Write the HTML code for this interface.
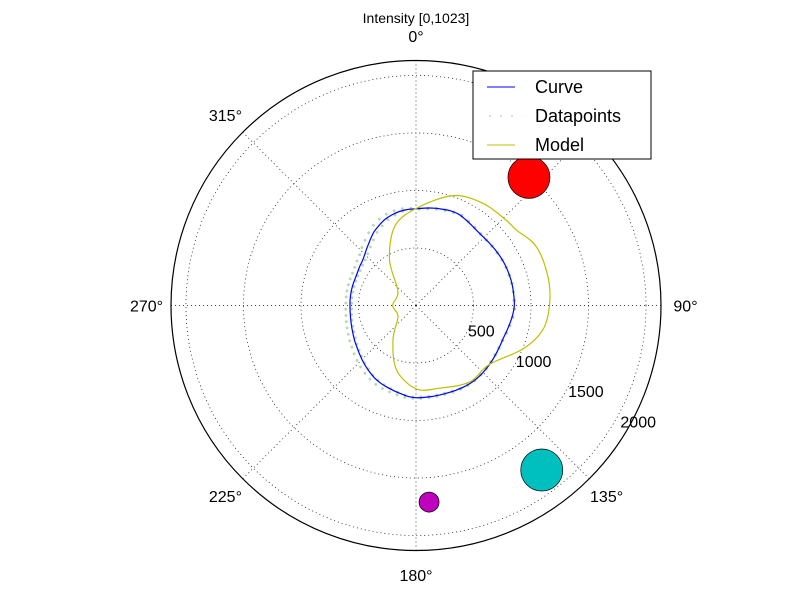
<!DOCTYPE html>
<html><head><meta charset="utf-8"><style>
body{margin:0;background:#fff}
svg{display:block;font-family:"Liberation Sans",sans-serif}
</style></head><body>
<svg id="c" width="812" height="612" viewBox="0 0 812 612" xmlns="http://www.w3.org/2000/svg">
<rect width="812" height="612" fill="#fff"/>
<text x="416" y="23" font-size="14" text-anchor="middle">Intensity [0,1023]</text>
<g id="grid"></g>
<g id="series"></g>
<g id="labels" font-size="16"></g>
<g>
<rect x="473" y="71" width="178" height="88" fill="#fff" stroke="#000" stroke-width="1"/>
<line x1="487" y1="87" x2="515" y2="87" stroke="#0000ff" stroke-width="1"/>
<text x="535" y="93" font-size="18">Curve</text>
<g fill="#8fd18f"><circle cx="490" cy="116" r="0.8"/><circle cx="501" cy="116" r="0.8"/><circle cx="512" cy="116" r="0.8"/></g>
<text x="535" y="122" font-size="18">Datapoints</text>
<line x1="487" y1="145" x2="515" y2="145" stroke="#bfbf00" stroke-width="1"/>
<text x="535" y="151" font-size="18">Model</text>
</g>
</svg>
<script>
const curveAngles=[0,5,10,15,20,25,30,35,40,45,50,55,60,65,70,75,80,85,90,95,100,105,110,115,120,125,130,135,140,145,150,155,160,165,170,175,180,185,190,195,200,205,210,215,220,225,230,235,240,245,250,255,260,265,270,275,280,285,290,295,300,305,310,315,320,325,330,335,340,345,350,355];
const curveVals=[841,850,860,868,876,876,862,848,837,835,838,842,847,851,853,855,855,855,855,846,833,821,811,810,812,816,820,824,826,825,820,814,808,805,803,802,802,793,778,764,752,741,725,705,684,664,645,628,615,602,592,584,578,575,574,575,576,577,578,579,585,596,607,630,660,695,735,765,795,815,830,838];
const dotVals=[845,852,864,870,878,880,866,852,842,838,842,846,850,854,856,858,858,858,858,850,836,824,814,813,815,820,824,828,830,830,826,820,815,812,810,810,808,805,795,785,778,770,755,738,720,700,682,665,652,640,630,622,615,612,610,612,614,615,617,620,628,642,660,690,720,755,790,815,835,845,850,848];
const dotVals2=[836,845,855,862,870,872,858,845,834,832,835,839,844,848,850,852,852,852,852,842,830,818,808,806,808,812,816,820,822,820,815,808,802,798,796,795,795,785,770,755,742,728,712,690,668,648,628,612,598,586,578,570,565,560,558,560,562,563,565,567,572,582,594,615,645,680,720,752,785,808,826,834];
const modelAngles=[0,18.6,33,46,53,64,78,90,101,112,129,145,164,180,197,214,239,270,308,330,345];
const modelVals=[843,1008,1061,1078,1092,1165,1174,1161,1122,1006,817,813,748,724,583,357,183,203,200,461,713];
const markerAngles=[41.4,142.6,176.2];
const markerVals=[1485,1800,1713];
const markerSizes=[21,21,10];
const markerColors=['#ff0000','#00bfbf','#bf00bf'];
const rTicks=[500,1000,1500,2000];
const thetaTicks=[0,45,90,135,180,225,270,315];
const CX=416,CY=305.5,RMAX=2130,RPX=245;
const NS='http://www.w3.org/2000/svg';
function rs(v){return v/RMAX*RPX;}
function xy(a,v){const t=a*Math.PI/180;return [CX+rs(v)*Math.sin(t),CY-rs(v)*Math.cos(t)];}
function mk(tag,attrs,parent){const e=document.createElementNS(NS,tag);for(const k in attrs)e.setAttribute(k,attrs[k]);parent.appendChild(e);return e;}
const grid=document.getElementById('grid'),ser=document.getElementById('series'),lab=document.getElementById('labels');
rTicks.forEach(v=>{const c=mk('circle',{cx:CX,cy:CY,r:rs(v),fill:'none',stroke:'#000','stroke-width':0.7,'stroke-dasharray':'1,3'},grid);


const p=xy(120,v*1.05);const t=mk('text',{x:p[0]+13,y:p[1]+1,'text-anchor':'middle'},lab);t.textContent=v;

});
thetaTicks.forEach(a=>{const p=xy(a,RMAX);const l=mk('line',{x1:CX,y1:CY,x2:p[0],y2:p[1],stroke:'#000','stroke-width':0.7,'stroke-dasharray':'1,3'},grid);


if(a===45)return;
const q=xy(a,RMAX*1.1);const t=mk('text',{x:q[0],y:q[1]+6,'text-anchor':'middle'},lab);t.textContent=a+'°';

});
const oc=mk('circle',{cx:CX,cy:CY,r:RPX,fill:'none',stroke:'#000','stroke-width':1.2},grid);


[dotVals,dotVals2].forEach(arr=>{curveAngles.forEach((a,i)=>{const p=xy(a+2,arr[i]);const d=mk('circle',{cx:p[0],cy:p[1],r:1.4,fill:'#6cbf6c','fill-opacity':0.55},ser);

});});
function path(angs,vals,col,name){const pts=angs.map((a,i)=>xy(a,vals[i]));const n=pts.length;let s='M'+pts[0][0].toFixed(1)+','+pts[0][1].toFixed(1);
for(let i=0;i<n;i++){const p0=pts[(i-1+n)%n],p1=pts[i],p2=pts[(i+1)%n],p3=pts[(i+2)%n];
const c1=[p1[0]+(p2[0]-p0[0])/6,p1[1]+(p2[1]-p0[1])/6],c2=[p2[0]-(p3[0]-p1[0])/6,p2[1]-(p3[1]-p1[1])/6];
s+='C'+c1[0].toFixed(1)+','+c1[1].toFixed(1)+' '+c2[0].toFixed(1)+','+c2[1].toFixed(1)+' '+p2[0].toFixed(1)+','+p2[1].toFixed(1);}
const e=mk('path',{d:s,fill:'none',stroke:col,'stroke-width':1.2},ser);

}
path(curveAngles,curveVals,'#0000ff','curve-line');
path(modelAngles,modelVals,'#bfbf00','model-line');
markerAngles.forEach((a,i)=>{const p=xy(a,markerVals[i]);const m=mk('circle',{cx:p[0],cy:p[1],r:markerSizes[i],fill:markerColors[i],stroke:'#000','stroke-width':0.7},ser);

});
</script>
</body></html>
